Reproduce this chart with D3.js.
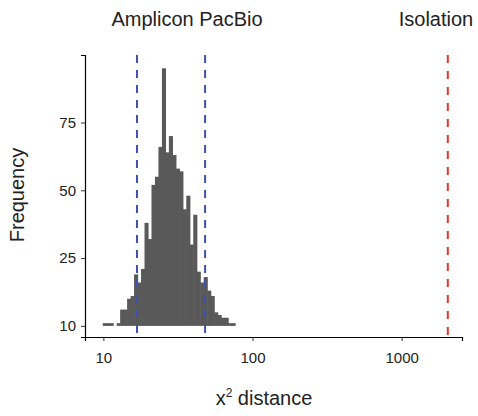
<!DOCTYPE html>
<html>
<head>
<meta charset="utf-8">
<script src="https://cdn.jsdelivr.net/npm/d3@7"></script>
<style>
  body { margin: 0; background: #fff; }
  text { font-family: "Liberation Sans", Arial, sans-serif; fill: #222; }
</style>
</head>
<body>
<div id="chart"></div>
<script>
// histogram counts, 38 equal-width bins on log10 scale
var binLow = 9.9, binHigh = 76.4;
var counts = [1,1,1,0,1,6,6,10,11,19,16,21,38,32,52,55,66,95,64,70,
              63,58,57,43,48,30,41,20,16,18,13,11,5,4,3,3,1,1];
var groupLines = [16.8, 48.1];       // Amplicon PacBio bounds
var isolationLine = [2040];
var xTicks = [10, 100, 1000];
var yTicks = [0, 25, 50, 75];
var yTickLabels = ['10', '25', '50', '75'];
var titles = ['Amplicon PacBio', 'Isolation'];

var W = 478, H = 416;
var m = {left: 85, right: 16, top: 55, bottom: 79};

var svg = d3.select('#chart').append('svg')
	.attr('width', W).attr('height', H);

var x = d3.scaleLog().domain([7.53, 2540]).range([m.left, W - m.right]);
var y = d3.scaleLinear().domain([-4.1, 99.9]).range([H - m.bottom, m.top]);

var lo = Math.log10(binLow), step = (Math.log10(binHigh) - lo) / counts.length;
var bins = counts.map(function(c, i){
	return {x0: Math.pow(10, lo + i*step), x1: Math.pow(10, lo + (i+1)*step), n: c};
});

svg.append('g').selectAll('rect')
	.data(bins.filter(function(d){return d.n > 0;}))
	.enter().append('rect')
	.attr('x', function(d){return x(d.x0);})
	.attr('width', function(d){return x(d.x1) - x(d.x0) + 0.6;})
	.attr('y', function(d){return y(d.n);})
	.attr('height', function(d){return y(0) - y(d.n);})
	.attr('fill', '#595959');

// dashed reference lines
svg.append('g').selectAll('line')
	.data(groupLines).enter().append('line')
	.attr('x1', x).attr('x2', x)
	.attr('y1', m.top).attr('y2', H - m.bottom)
	.attr('stroke', '#3d52a8').attr('stroke-width', 2)
	.attr('stroke-dasharray', '8,7');

svg.append('g').selectAll('line')
	.data(isolationLine).enter().append('line')
	.attr('x1', x).attr('x2', x)
	.attr('y1', m.top).attr('y2', H - m.bottom)
	.attr('stroke', '#e8352a').attr('stroke-width', 2)
	.attr('stroke-dasharray', '8,8');

// axes
var xAxis = svg.append('g')
	.attr('transform', 'translate(0,' + (H - m.bottom) + ')')
	.call(d3.axisBottom(x).tickValues(xTicks).tickFormat(d3.format('d')).tickSizeOuter(0).tickSize(4).tickPadding(11));
var yAxis = svg.append('g')
	.attr('transform', 'translate(' + m.left + ',0)')
	.call(d3.axisLeft(y).tickValues(yTicks)
		.tickFormat(function(d, i){return yTickLabels[i];})
		.tickSizeOuter(0).tickSize(4).tickPadding(5));

[xAxis, yAxis].forEach(function(a){
	a.attr('font-size', 15).attr('font-family', null);
	a.select('.domain').attr('stroke', '#000').attr('stroke-width', 1.2);
	a.selectAll('.tick line').attr('stroke', '#333');
	a.selectAll('.tick text').attr('fill', '#2a2a2a');
});

// labels
svg.append('text').attr('x', 187).attr('y', 26)
	.attr('text-anchor', 'middle').style('font-size', '20px').text(titles[0]);
svg.append('text').attr('x', 436).attr('y', 26)
	.attr('text-anchor', 'middle').style('font-size', '20px').text(titles[1]);

var xl = svg.append('text').attr('x', 264).attr('y', 405)
	.attr('text-anchor', 'middle').style('font-size', '20px');
xl.append('tspan').text('x');
xl.append('tspan').attr('dy', -8).style('font-size', '12px').text('2');
xl.append('tspan').attr('dy', 8).text(' distance');

svg.append('text')
	.attr('transform', 'translate(24,' + 195 + ') rotate(-90)')
	.attr('text-anchor', 'middle').style('font-size', '20px').text('Frequency');
</script>
</body>
</html>
